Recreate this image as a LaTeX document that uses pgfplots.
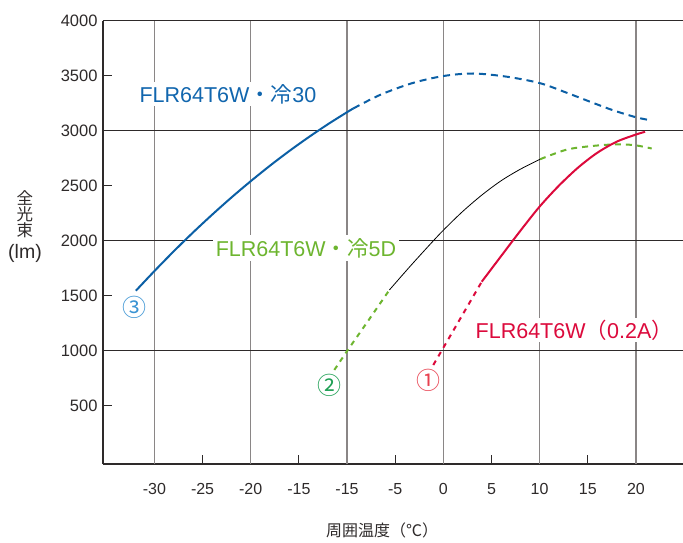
\documentclass[border=0pt]{standalone}
\usepackage{pgfplots}
\pgfplotsset{compat=1.18}
\usepackage{fontspec}
\setmainfont{Liberation Sans}
\newfontfamily\jp{Noto Sans CJK JP}
\definecolor{cblue}{HTML}{0B5FA5}
\definecolor{cbluet}{HTML}{1166AE}
\definecolor{cblue3}{HTML}{3A93D3}
\definecolor{cgreen}{HTML}{6DB52F}
\definecolor{cgreen2}{HTML}{1C9E52}
\definecolor{cred}{HTML}{DC0A3C}
\definecolor{cred1}{HTML}{E8404F}
\definecolor{gridgray}{HTML}{8A8686}
\definecolor{gridblack}{HTML}{2E2A2A}
\begin{document}
\begin{tikzpicture}
\useasboundingbox (-103pt,-78pt) rectangle (580pt,464pt);
\begin{axis}[
  at={(0,0)}, anchor=south west,
  scale only axis, width=580pt, height=443.3pt,
  xmin=-35.34, xmax=24.89, ymin=-30, ymax=4000,
  axis x line*=bottom, axis y line*=left,
  axis line style={-, draw=gridblack, line width=1.1pt},
  tick align=inside, major tick length=9pt,
  tick style={draw=gridblack, line width=1pt},
  xtick={-30,-25,-20,-15,-10,-5,0,5,10,15,20},
  xticklabels={-30,-25,-20,-15,-15,-5,0,5,10,15,20},
  ytick={500,1000,1500,2000,2500,3000,3500,4000},
  yticklabels={500,1000,1500,2000,2500,3000,3500,4000},
  xticklabel style={font=\fontsize{16}{19}\selectfont, anchor=base, yshift=-30pt, text=gridblack},
  yticklabel style={font=\fontsize{16.5}{19}\selectfont, anchor=east, xshift=-2pt, text=gridblack},
  extra x ticks={-30,-20,-10,0,10,20},
  extra x tick labels={},
  extra x tick style={grid=major, major tick length=0pt, major grid style={draw=gridgray, line width=1.3pt}},
  extra y ticks={1000,2000,3000,4000},
  extra y tick labels={},
  extra y tick style={grid=major, major tick length=0pt, major grid style={draw=gridblack, line width=1.1pt}},
  clip=false,
]
% Series 3 (FLR64T6W 冷30): solid part
\addplot[cblue, line width=2pt, smooth] coordinates {
  (-31.93,1545) (-30,1724) (-28,1903) (-26,2074) (-24,2237) (-22,2393) (-20,2541)
  (-18,2682) (-16,2815) (-14,2940) (-12,3058) (-10,3168) (-9.35,3202)
};
% Series 3 dashed part
\addplot[cblue, line width=2pt, smooth, dash pattern=on 7pt off 5pt] coordinates {
  (-9.35,3202) (-6.58,3325) (-3.28,3431) (0,3497) (3.12,3520) (6.58,3491) (10.04,3432)
  (12.81,3345) (15.58,3252) (17.65,3185) (20.01,3122) (21.39,3097)
};
% Series 2 (FLR64T6W 冷5D): low dashed part
\addplot[cgreen, line width=2pt, dash pattern=on 5pt off 5pt] coordinates {
  (-11.32,825) (-9.97,1000) (-7.7,1285) (-5.6,1552)
};
% Series 2 black middle part
\addplot[black, line width=0.8pt, smooth] coordinates {
  (-5.6,1552) (-3.5,1762) (-1.5,1955) (0,2095) (2,2265) (4,2415) (6,2545) (8,2650) (10.04,2740)
};
% Series 2 high dashed part
\addplot[cgreen, line width=2pt, smooth, dash pattern=on 6pt off 5pt] coordinates {
  (10.04,2740) (12.81,2828) (15.58,2862) (18,2876) (19.9,2868) (21.64,2838)
};
% Series 1 (FLR64T6W 0.2A): dashed part
\addplot[cred, line width=2pt, dash pattern=on 5pt off 5pt] coordinates {
  (-1.04,870) (3.99,1627)
};
% Series 1 solid part
\addplot[cred, line width=2pt, smooth] coordinates {
  (3.99,1627) (6,1860) (8,2090) (10,2310) (12,2500) (14,2665) (16,2800) (18,2900) (20,2965) (20.95,2990)
};
\node[fill=white, inner sep=2pt, text=cbluet, font=\fontsize{21.5}{24}\selectfont] at (axis cs:-22.36,3334) {FLR64T6W{\jp ・冷}30};
\node[fill=white, inner sep=3pt, text=cgreen, font=\fontsize{21.5}{24}\selectfont] at (axis cs:-14.26,1934) {FLR64T6W{\jp ・冷}5D};
\node[fill=white, inner sep=2pt, text=cred, font=\fontsize{21.5}{24}\selectfont] at (axis cs:13.6,1188) {FLR64T6W{\jp （}0.2A{\jp ）}};
\node[text=cblue3, font=\jp\fontsize{24}{26}\selectfont] at (axis cs:-32.03,1391) {③};
\node[text=cgreen2, font=\jp\fontsize{24}{26}\selectfont] at (axis cs:-11.84,688) {②};
\node[text=cred1, font=\jp\fontsize{24}{26}\selectfont] at (axis cs:-1.56,727) {①};
\end{axis}
\node[text=gridblack, font=\jp\fontsize{16}{18}\selectfont] at (279pt,-66pt) {周囲温度（℃）};
\node[text=gridblack, font=\jp\fontsize{16.5}{18}\selectfont] at (-78pt,266.5pt) {全};
\node[text=gridblack, font=\jp\fontsize{16.5}{18}\selectfont] at (-78pt,249.5pt) {光};
\node[text=gridblack, font=\jp\fontsize{16.5}{18}\selectfont] at (-78pt,233.5pt) {束};
\node[text=gridblack, font=\fontsize{19.5}{22}\selectfont] at (-78pt,210.5pt) {(lm)};
\end{tikzpicture}
\end{document}
